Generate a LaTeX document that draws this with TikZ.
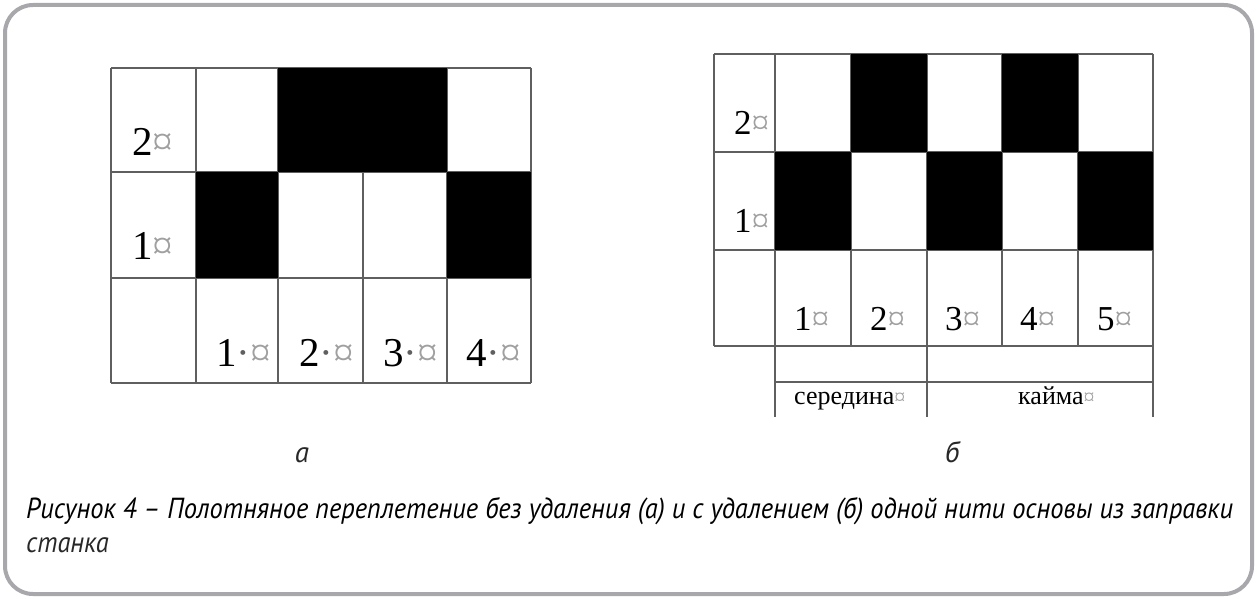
\documentclass[tikz,border=0pt]{standalone}
\usepackage{fontspec}
\usepackage{graphicx}
\setmainfont{Liberation Serif}
\newfontfamily\capfont{PT Sans}
\definecolor{gline}{RGB}{95,95,95}
\definecolor{mkgray}{RGB}{160,160,160}
\definecolor{framegray}{RGB}{168,168,172}
\definecolor{captext}{RGB}{40,40,40}
\newcommand\cellmk{\textcolor{mkgray}{¤}}
\newcommand\spacemk{\textcolor{gline}{·}}
\newsavebox\capbox
\begin{document}
\sbox\capbox{\capfont\itshape\fontsize{29}{29}\selectfont Рисунок 4 – Полотняное переплетение без удаления (а) и с удалением (б) одной нити основы из заправки}%
\pgfmathsetmacro\capscale{1207/\the\wd\capbox}%
\begin{tikzpicture}[x=1pt,y=-1pt,
  gridline/.style={draw=gline,line width=1.6pt},
  blk/.style={fill=black},
  numA/.style={anchor=base west,inner sep=0pt,font=\fontsize{41}{41}\selectfont},
  numB/.style={anchor=base west,inner sep=0pt,font=\fontsize{35}{35}\selectfont},
  lab/.style={anchor=base west,inner sep=0pt,font=\fontsize{26}{26}\selectfont},
  capt/.style={inner sep=0pt,text=captext,font=\capfont\itshape\fontsize{29}{29}\selectfont}]
\useasboundingbox (0,0) rectangle (1257,599);
\draw[draw=framegray,line width=4pt,rounded corners=28pt] (5,5) rectangle (1252,594);
% ---- grid a ----
\foreach \xx in {111,196,278,363,447,531} \draw[gridline] (\xx,68) -- (\xx,383);
\foreach \yy in {68,172,278,383} \draw[gridline] (111,\yy) -- (531,\yy);
\fill[blk] (278,68) rectangle (447,172);
\fill[blk] (196,172) rectangle (278,278);
\fill[blk] (447,172) rectangle (531,278);
\node[numA] (a2) at (132,155) {2\cellmk};
\node[numA] (a1) at (132,259) {1\cellmk};
\node[numA] (ac1) at (216,366) {1\spacemk\cellmk};
\node[numA] (ac2) at (299,366) {2\spacemk\cellmk};
\node[numA] (ac3) at (383,366) {3\spacemk\cellmk};
\node[numA] (ac4) at (466,366) {4\spacemk\cellmk};
% ---- grid b ----
\foreach \xx in {714,775,851,927,1002,1078,1153} \draw[gridline] (\xx,54) -- (\xx,346);
\foreach \yy in {54,152,250,346} \draw[gridline] (714,\yy) -- (1153,\yy);
\fill[blk] (851,54) rectangle (927,152);
\fill[blk] (1002,54) rectangle (1078,152);
\fill[blk] (775,152) rectangle (851,250);
\fill[blk] (927,152) rectangle (1002,250);
\fill[blk] (1078,152) rectangle (1153,250);
\foreach \xx in {775,927,1153} \draw[gridline] (\xx,346) -- (\xx,417);
\draw[gridline] (775,382) -- (1153,382);
\node[numB] (b2) at (734,134) {2\cellmk};
\node[numB] (b1) at (734,232) {1\cellmk};
\node[numB] (bc1) at (794,330) {1\cellmk};
\node[numB] (bc2) at (870,330) {2\cellmk};
\node[numB] (bc3) at (945,330) {3\cellmk};
\node[numB] (bc4) at (1020,330) {4\cellmk};
\node[numB] (bc5) at (1097,330) {5\cellmk};
\node[lab] (mid) at (794,404) {середина{\fontsize{22}{22}\selectfont\cellmk}};
\node[lab] (edge) at (1018,404) {кайма{\fontsize{22}{22}\selectfont\cellmk}};
% ---- captions ----
\node[capt,anchor=base] (la) at (302,462) {а};
\node[capt,anchor=base] (lb) at (952,462) {б};
\node[capt,anchor=base west] (cap1) at (26,518) {\scalebox{\capscale}[1]{\usebox\capbox}};
\node[capt,anchor=base west] (cap2) at (26,552) {\scalebox{\capscale}[1]{станка}};
\end{tikzpicture}
\end{document}
